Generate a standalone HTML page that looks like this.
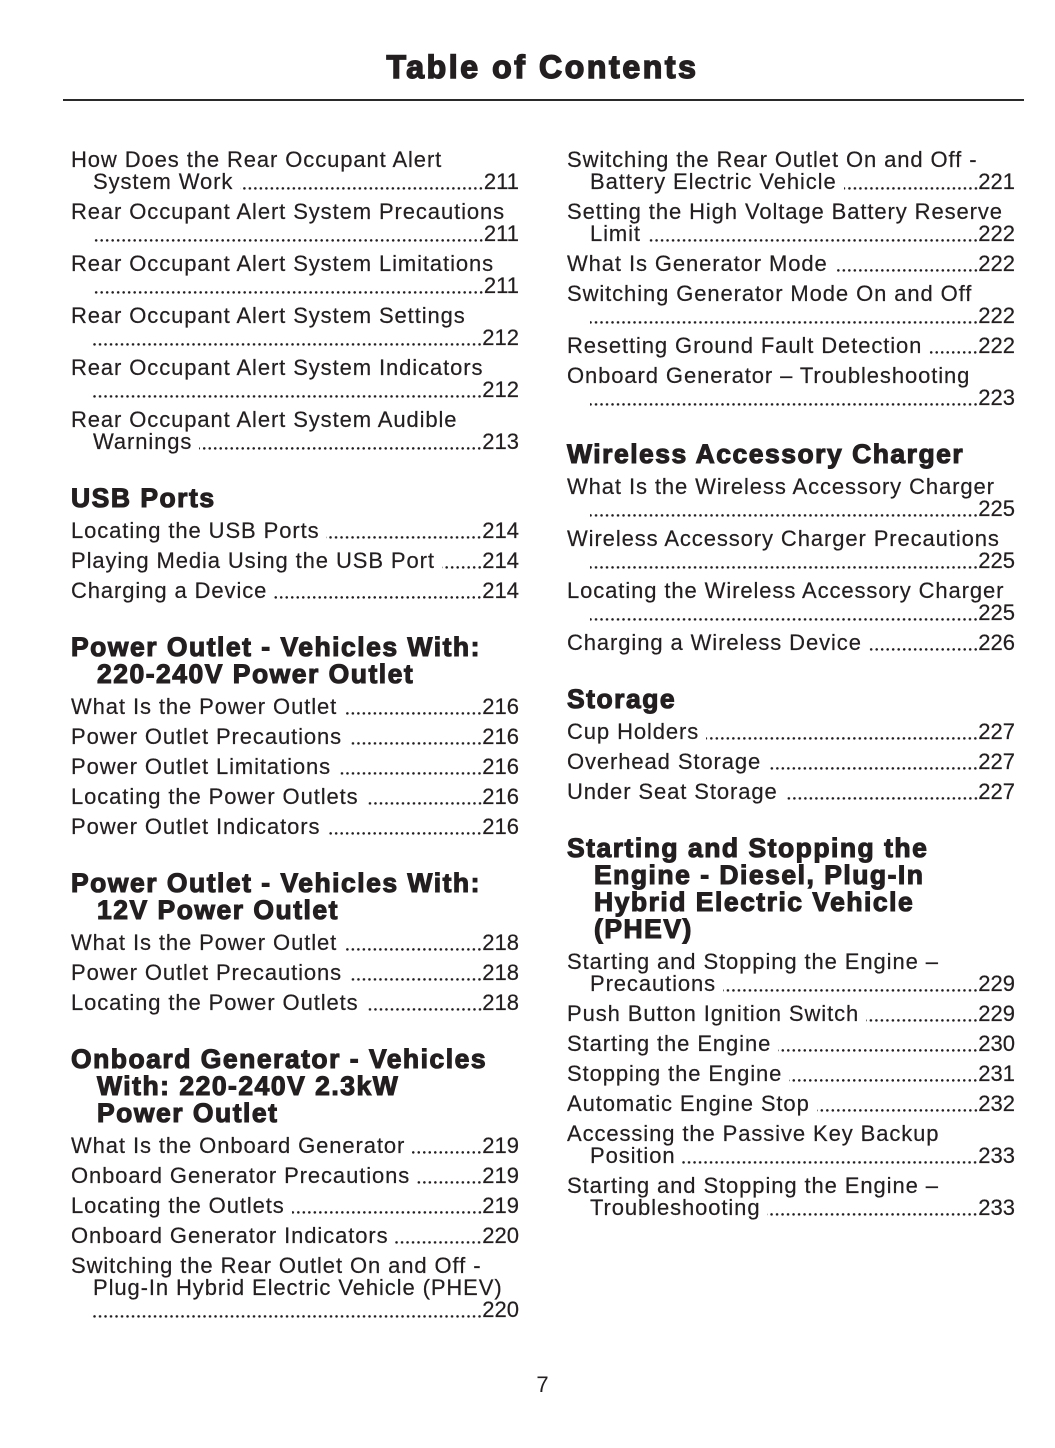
<!DOCTYPE html>
<html>
<head>
<meta charset="utf-8">
<style>
  html,body{margin:0;padding:0;}
  body{width:1055px;height:1448px;background:#fff;position:relative;overflow:hidden;
       font-family:"Liberation Sans",sans-serif;color:#231f20;}
  .title{position:absolute;left:0;width:1085px;top:50px;text-align:center;font-size:32px;line-height:34px;
         font-weight:bold;letter-spacing:2.6px;-webkit-text-stroke:1.5px #231f20;white-space:nowrap;}
  .rule{position:absolute;left:63px;top:99px;width:961px;height:1.6px;background:#2a2a2a;}
  .r{position:absolute;height:22px;line-height:22px;font-size:22px;letter-spacing:.9px;display:flex;white-space:nowrap;
     -webkit-text-stroke:.2px #231f20;}
  .L{left:71px;width:448px;}
  .Li{left:93px;width:426px;}
  .R{left:567px;width:448px;}
  .Ri{left:590px;width:425px;}
  .d{flex:1;margin-left:7px;align-self:stretch;
     background-image:radial-gradient(circle at 2.75px 17.4px,#231f20 0,#231f20 1.05px,rgba(35,31,32,0) 1.5px);
     background-size:5.5px 22px;background-repeat:repeat-x;background-position:right 0;}
  .d0{margin-left:0;}
  .n{letter-spacing:0;}
  .h{position:absolute;font-size:26.5px;line-height:27px;font-weight:bold;letter-spacing:1.5px;
     -webkit-text-stroke:1.1px #231f20;white-space:nowrap;}
  .hL{left:71px;} .hLi{left:97px;} .hR{left:567px;} .hRi{left:594px;}
  .pg{position:absolute;left:0;width:1085px;text-align:center;top:1374.4px;font-size:22px;line-height:22px;}
</style>
</head>
<body>
<div class="title">Table of Contents</div>
<div class="rule"></div>

<!-- LEFT COLUMN -->
<div class="r L" style="top:149.4px"><span>How Does the Rear Occupant Alert</span></div>
<div class="r Li" style="top:171.4px"><span>System Work</span><span class="d"></span><span class="n">211</span></div>
<div class="r L" style="top:201.4px"><span>Rear Occupant Alert System Precautions</span></div>
<div class="r Li" style="top:223.4px"><span class="d d0"></span><span class="n">211</span></div>
<div class="r L" style="top:253.4px"><span>Rear Occupant Alert System Limitations</span></div>
<div class="r Li" style="top:275.4px"><span class="d d0"></span><span class="n">211</span></div>
<div class="r L" style="top:305.4px"><span>Rear Occupant Alert System Settings</span></div>
<div class="r Li" style="top:327.4px"><span class="d d0"></span><span class="n">212</span></div>
<div class="r L" style="top:357.4px"><span>Rear Occupant Alert System Indicators</span></div>
<div class="r Li" style="top:379.4px"><span class="d d0"></span><span class="n">212</span></div>
<div class="r L" style="top:409.4px"><span>Rear Occupant Alert System Audible</span></div>
<div class="r Li" style="top:431.4px"><span>Warnings</span><span class="d"></span><span class="n">213</span></div>

<div class="h hL" style="top:484.5px">USB Ports</div>
<div class="r L" style="top:520.4px"><span>Locating the USB Ports</span><span class="d"></span><span class="n">214</span></div>
<div class="r L" style="top:550.4px"><span>Playing Media Using the USB Port</span><span class="d"></span><span class="n">214</span></div>
<div class="r L" style="top:580.4px"><span>Charging a Device</span><span class="d"></span><span class="n">214</span></div>

<div class="h hL" style="top:633.5px">Power Outlet - Vehicles With:</div>
<div class="h hLi" style="top:660.5px">220-240V Power Outlet</div>
<div class="r L" style="top:696.4px"><span>What Is the Power Outlet</span><span class="d"></span><span class="n">216</span></div>
<div class="r L" style="top:726.4px"><span>Power Outlet Precautions</span><span class="d"></span><span class="n">216</span></div>
<div class="r L" style="top:756.4px"><span>Power Outlet Limitations</span><span class="d"></span><span class="n">216</span></div>
<div class="r L" style="top:786.4px"><span>Locating the Power Outlets</span><span class="d"></span><span class="n">216</span></div>
<div class="r L" style="top:816.4px"><span>Power Outlet Indicators</span><span class="d"></span><span class="n">216</span></div>

<div class="h hL" style="top:869.5px">Power Outlet - Vehicles With:</div>
<div class="h hLi" style="top:896.5px">12V Power Outlet</div>
<div class="r L" style="top:932.4px"><span>What Is the Power Outlet</span><span class="d"></span><span class="n">218</span></div>
<div class="r L" style="top:962.4px"><span>Power Outlet Precautions</span><span class="d"></span><span class="n">218</span></div>
<div class="r L" style="top:992.4px"><span>Locating the Power Outlets</span><span class="d"></span><span class="n">218</span></div>

<div class="h hL" style="top:1045.5px">Onboard Generator - Vehicles</div>
<div class="h hLi" style="top:1072.5px">With: 220-240V 2.3kW</div>
<div class="h hLi" style="top:1099.5px">Power Outlet</div>
<div class="r L" style="top:1135.4px"><span>What Is the Onboard Generator</span><span class="d"></span><span class="n">219</span></div>
<div class="r L" style="top:1165.4px"><span>Onboard Generator Precautions</span><span class="d"></span><span class="n">219</span></div>
<div class="r L" style="top:1195.4px"><span>Locating the Outlets</span><span class="d"></span><span class="n">219</span></div>
<div class="r L" style="top:1225.4px"><span>Onboard Generator Indicators</span><span class="d"></span><span class="n">220</span></div>
<div class="r L" style="top:1255.4px"><span>Switching the Rear Outlet On and Off -</span></div>
<div class="r Li" style="top:1277.4px"><span>Plug-In Hybrid Electric Vehicle (PHEV)</span></div>
<div class="r Li" style="top:1299.4px"><span class="d d0"></span><span class="n">220</span></div>

<!-- RIGHT COLUMN -->
<div class="r R" style="top:149.4px"><span>Switching the Rear Outlet On and Off -</span></div>
<div class="r Ri" style="top:171.4px"><span>Battery Electric Vehicle</span><span class="d"></span><span class="n">221</span></div>
<div class="r R" style="top:201.4px"><span>Setting the High Voltage Battery Reserve</span></div>
<div class="r Ri" style="top:223.4px"><span>Limit</span><span class="d"></span><span class="n">222</span></div>
<div class="r R" style="top:253.4px"><span>What Is Generator Mode</span><span class="d"></span><span class="n">222</span></div>
<div class="r R" style="top:283.4px"><span>Switching Generator Mode On and Off</span></div>
<div class="r Ri" style="top:305.4px"><span class="d d0"></span><span class="n">222</span></div>
<div class="r R" style="top:335.4px"><span>Resetting Ground Fault Detection</span><span class="d"></span><span class="n">222</span></div>
<div class="r R" style="top:365.4px"><span>Onboard Generator – Troubleshooting</span></div>
<div class="r Ri" style="top:387.4px"><span class="d d0"></span><span class="n">223</span></div>

<div class="h hR" style="top:440.5px">Wireless Accessory Charger</div>
<div class="r R" style="top:476.4px"><span>What Is the Wireless Accessory Charger</span></div>
<div class="r Ri" style="top:498.4px"><span class="d d0"></span><span class="n">225</span></div>
<div class="r R" style="top:528.4px"><span>Wireless Accessory Charger Precautions</span></div>
<div class="r Ri" style="top:550.4px"><span class="d d0"></span><span class="n">225</span></div>
<div class="r R" style="top:580.4px"><span>Locating the Wireless Accessory Charger</span></div>
<div class="r Ri" style="top:602.4px"><span class="d d0"></span><span class="n">225</span></div>
<div class="r R" style="top:632.4px"><span>Charging a Wireless Device</span><span class="d"></span><span class="n">226</span></div>

<div class="h hR" style="top:685.5px">Storage</div>
<div class="r R" style="top:721.4px"><span>Cup Holders</span><span class="d"></span><span class="n">227</span></div>
<div class="r R" style="top:751.4px"><span>Overhead Storage</span><span class="d"></span><span class="n">227</span></div>
<div class="r R" style="top:781.4px"><span>Under Seat Storage</span><span class="d"></span><span class="n">227</span></div>

<div class="h hR" style="top:834.5px">Starting and Stopping the</div>
<div class="h hRi" style="top:861.5px">Engine - Diesel, Plug-In</div>
<div class="h hRi" style="top:888.5px">Hybrid Electric Vehicle</div>
<div class="h hRi" style="top:915.5px">(PHEV)</div>
<div class="r R" style="top:951.4px"><span>Starting and Stopping the Engine –</span></div>
<div class="r Ri" style="top:973.4px"><span>Precautions</span><span class="d"></span><span class="n">229</span></div>
<div class="r R" style="top:1003.4px"><span>Push Button Ignition Switch</span><span class="d"></span><span class="n">229</span></div>
<div class="r R" style="top:1033.4px"><span>Starting the Engine</span><span class="d"></span><span class="n">230</span></div>
<div class="r R" style="top:1063.4px"><span>Stopping the Engine</span><span class="d"></span><span class="n">231</span></div>
<div class="r R" style="top:1093.4px"><span>Automatic Engine Stop</span><span class="d"></span><span class="n">232</span></div>
<div class="r R" style="top:1123.4px"><span>Accessing the Passive Key Backup</span></div>
<div class="r Ri" style="top:1145.4px"><span>Position</span><span class="d"></span><span class="n">233</span></div>
<div class="r R" style="top:1175.4px"><span>Starting and Stopping the Engine –</span></div>
<div class="r Ri" style="top:1197.4px"><span>Troubleshooting</span><span class="d"></span><span class="n">233</span></div>

<div class="pg">7</div>
</body>
</html>
